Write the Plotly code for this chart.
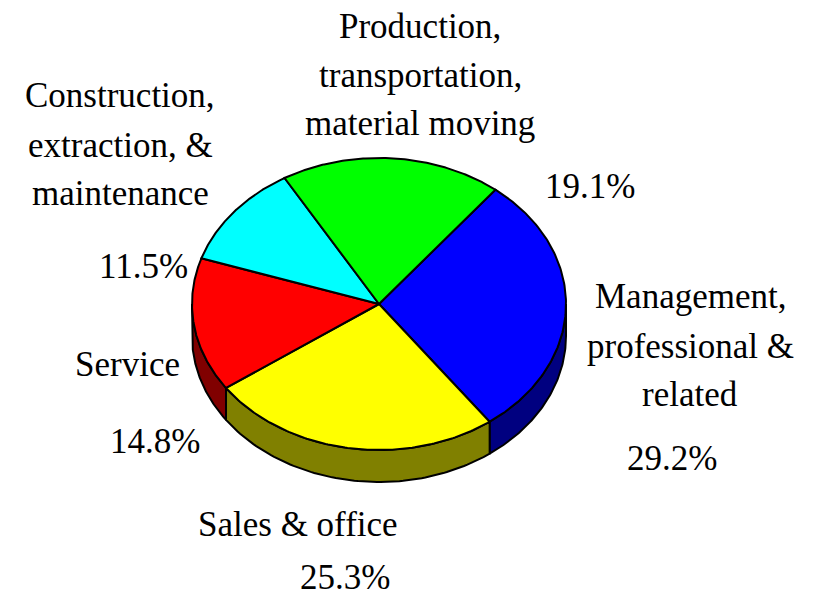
import numpy as np
import plotly.graph_objects as go

categories = ["Management, professional & related", "Sales & office", "Service",
              "Construction, extraction, & maintenance", "Production, transportation, material moving"]
shares = [29.2, 25.3, 14.8, 11.5, 19.1]
label_lines = [["Management,", "professional &", "related"],
               ["Sales & office"],
               ["Service"],
               ["Construction,", "extraction, &", "maintenance"],
               ["Production,", "transportation,", "material moving"]]
pct_labels = ["29.2%", "25.3%", "14.8%", "11.5%", "19.1%"]

top_colors = ["#0000FF", "#FFFF00", "#FF0000", "#00FFFF", "#00FF00"]
side_colors = ["#000080", "#808000", "#800000", "#008080", "#008000"]

# geometry (pixel space of the window)
CX, CY, RX, RY, DEPTH = 379, 304, 187, 146, 32
START = 51.5

def ell(t_deg, dy=0.0):
    t = np.radians(t_deg)
    return CX + RX * np.cos(t), CY - RY * np.sin(t) + dy

total = sum(shares)
bounds = [START]
for s in shares:
    bounds.append(bounds[-1] - 360.0 * s / total)

fig = go.Figure()

# side walls
for i in range(len(shares)):
    a1, a2 = bounds[i], bounds[i + 1]  # a1 > a2
    for m in range(-2, 2):
        lo, hi = -180 - 360 * m, -360 * m
        s_hi, s_lo = min(a1, hi), max(a2, lo)
        if s_hi > s_lo:
            ts = np.linspace(s_hi, s_lo, 80)
            xt, yt = ell(ts)
            xb, yb = ell(ts[::-1], DEPTH)
            xs = np.concatenate([xt, xb, xt[:1]])
            ys = np.concatenate([yt, yb, yt[:1]])
            fig.add_trace(go.Scatter(x=xs, y=ys, mode="lines", fill="toself",
                                     fillcolor=side_colors[i],
                                     line=dict(color="black", width=2),
                                     hoverinfo="skip", showlegend=False))

# top faces
for i in range(len(shares)):
    ts = np.linspace(bounds[i], bounds[i + 1], 120)
    xa, ya = ell(ts)
    xs = np.concatenate([[CX], xa, [CX]])
    ys = np.concatenate([[CY], ya, [CY]])
    fig.add_trace(go.Scatter(x=xs, y=ys, mode="lines", fill="toself",
                             fillcolor=top_colors[i],
                             line=dict(color="black", width=2),
                             name=categories[i], hoverinfo="name+text",
                             text=pct_labels[i], showlegend=False))

# label positions (pixel centres of text lines)
label_pos = [(690, [296, 346, 394]), (298, [524]), (127, [364]),
             (120, [95, 145, 193]), (420, [26, 75, 123])]
pct_pos = [(672, 458), (345, 577), (155, 441), (143, 266), (590, 186)]

FONT = dict(family="Liberation Serif, Times New Roman, serif", size=35, color="black")
for i in range(len(shares)):
    x0, ys_ = label_pos[i]
    for line, yy in zip(label_lines[i], ys_):
        fig.add_annotation(x=x0, y=yy, text=line, showarrow=False, font=FONT,
                           xanchor="center", yanchor="middle")
    px, py = pct_pos[i]
    fig.add_annotation(x=px, y=py, text=pct_labels[i], showarrow=False, font=FONT,
                       xanchor="center", yanchor="middle")

# page body has an 8px margin: size the figure so data units equal window pixels
fig.update_layout(
    width=811, height=594,
    margin=dict(l=0, r=0, t=0, b=0),
    paper_bgcolor="white", plot_bgcolor="white",
    xaxis=dict(range=[8, 819], visible=False, fixedrange=True),
    yaxis=dict(range=[602, 8], visible=False, fixedrange=True),
)
fig.write_html("out.html")
